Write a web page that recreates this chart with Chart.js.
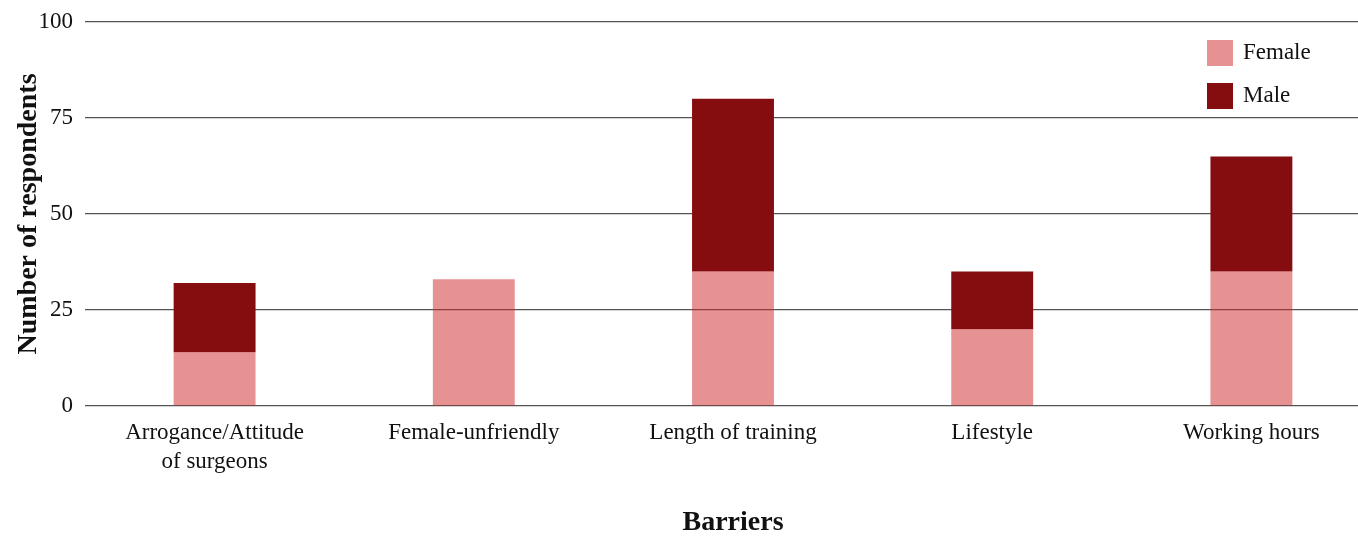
<!DOCTYPE html>
<html>
<head>
<meta charset="utf-8">
<script src="https://cdn.jsdelivr.net/npm/chart.js@4/dist/chart.umd.min.js"></script>
<style>
  html, body { margin: 0; padding: 0; overflow: hidden; background: #fff; }
  #wrap { position: absolute; left: 0; top: 0; width: 1400px; height: 551px; }
</style>
</head>
<body>
<div id="wrap"><canvas id="barChart"></canvas></div>
<script>
'use strict';

const barriers = [['Arrogance/Attitude', 'of surgeons'], 'Female-unfriendly', 'Length of training', 'Lifestyle', 'Working hours'];
const femaleCounts = [14, 33, 35, 20, 35];
const maleCounts = [18, 0, 45, 15, 30];
const yTicks = [0, 25, 50, 75, 100];

const serif = "'Liberation Serif', 'DejaVu Serif', serif";

// legend drawn inside the plot, top right, as a vertical list
const cornerLegend = {
  id: 'cornerLegend',
  afterDatasetsDraw(chart) {
    const { ctx, chartArea } = chart;
    const x = chartArea.right - 174;
    let y = chartArea.top + 18;
    ctx.save();
    ctx.font = '23px ' + serif;
    ctx.textBaseline = 'middle';
    chart.data.datasets.forEach(ds => {
      ctx.fillStyle = ds.legendColor;
      ctx.fillRect(x, y, 26, 26);
      ctx.fillStyle = '#111';
      ctx.fillText(ds.label, x + 36, y + 13);
      y += 43;
    });
    ctx.restore();
  }
};

const ctx = document.getElementById('barChart').getContext('2d');
new Chart(ctx, {
  type: 'bar',
  data: {
    labels: barriers,
    datasets: [
      { label: 'Female', data: femaleCounts, backgroundColor: 'rgba(206, 37, 40, 0.5)', legendColor: '#e69293' },
      { label: 'Male', data: maleCounts, backgroundColor: '#850c0f', legendColor: '#850c0f' }
    ]
  },
  options: {
    responsive: true,
    maintainAspectRatio: false,
    animation: false,
    layout: { padding: { top: 3, right: 19, bottom: 11, left: 2 } },
    datasets: { bar: { barPercentage: 0.316, categoryPercentage: 1 } },
    plugins: {
      legend: { display: false },
      tooltip: { enabled: false }
    },
    scales: {
      x: {
        stacked: true,
        grid: { display: false, drawTicks: false },
        border: { display: false },
        afterFit: axis => { axis.paddingLeft = 0; axis.paddingRight = 0; axis.height = 134; },
        ticks: {
          color: '#111',
          font: { family: serif, size: 23, lineHeight: 1.26 },
          padding: 12,
          maxRotation: 0
        },
        title: {
          display: true,
          text: 'Barriers',
          color: '#111',
          font: { family: serif, size: 28, weight: 'bold' },
          padding: { top: 15, bottom: 0 }
        }
      },
      y: {
        stacked: true,
        min: 0,
        max: 100,
        afterBuildTicks: axis => { axis.ticks = yTicks.map(v => ({ value: v })); },
        afterFit: axis => { axis.width = 83; axis.paddingTop = 22; axis.paddingBottom = 0; },
        grid: { color: '#555', lineWidth: 1.2, drawTicks: false },
        border: { display: false },
        ticks: {
          color: '#111',
          font: { family: serif, size: 23 },
          padding: 12
        },
        title: {
          display: true,
          text: 'Number of respondents',
          color: '#111',
          font: { family: serif, size: 28, weight: 'bold' },
          padding: { top: 10, bottom: 0 }
        }
      }
    }
  },
  plugins: [cornerLegend]
});
</script>
</body>
</html>
